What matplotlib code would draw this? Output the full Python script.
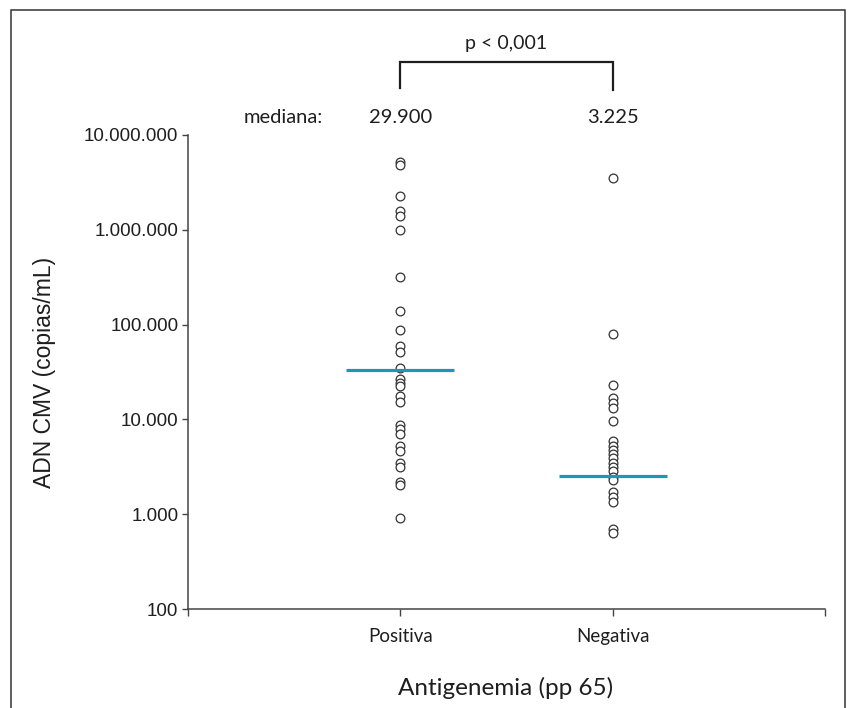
import numpy as np
import matplotlib
matplotlib.use("Agg")
import matplotlib.pyplot as plt
from matplotlib.ticker import FuncFormatter, FixedLocator
from matplotlib.patches import Rectangle

# data (copias/mL)
groups = ["Positiva", "Negativa"]
positiva = [5200000, 4830000, 2270000, 1580000, 1400000, 995000, 318000,
            139000, 87700, 59400, 51400, 34800, 26700, 24200, 22500, 17600,
            15300, 8730, 7920, 7020, 5240, 4640, 3470, 3140, 2190, 2030, 912]
negativa = [3520000, 79600, 23100, 16800, 14900, 13200, 9620, 5920, 5240,
            4750, 4310, 3920, 3470, 3150, 2860, 2470, 2290, 1710, 1520, 1350,
            698, 634]
median_lines = [33200, 2530]
median_labels = ["29.900", "3.225"]
p_text = "p < 0,001"
yticks = [100, 1000, 10000, 100000, 1000000, 10000000]

ink = "#1e1e1e"
teal = "#1b98b3"
label_font = "Lato"
tick_font = "Liberation Sans"

fig = plt.figure(figsize=(8.57, 7.08), dpi=100)
ax = fig.add_axes([188 / 857, 1 - 609 / 708, 637 / 857, 474 / 708])

for i, vals in enumerate([positiva, negativa]):
    xs = np.full(len(vals), i + 1.0)
    ax.plot(xs, vals, linestyle="none", marker="o", markersize=6.3,
            markerfacecolor="white", markeredgecolor="#333333",
            markeredgewidth=0.9, zorder=3)
    ax.hlines(median_lines[i], i + 1 - 0.255, i + 1 + 0.255, color=teal,
              linewidth=2.3, zorder=4)

ax.set_yscale("log")
ax.set_ylim(100, 10000000)
ax.set_xlim(0, 3)
ax.yaxis.set_major_locator(FixedLocator(yticks))
ax.yaxis.set_minor_locator(FixedLocator([]))
ax.yaxis.set_major_formatter(
    FuncFormatter(lambda v, pos: f"{v:,.0f}".replace(",", ".")))
ax.set_xticks([0, 1, 2, 3])
ax.set_xticklabels(["", groups[0], groups[1], ""])

for s in ["top", "right"]:
    ax.spines[s].set_visible(False)
for s in ["left", "bottom"]:
    ax.spines[s].set_color("#444444")
    ax.spines[s].set_linewidth(1.1)

ax.tick_params(axis="y", direction="out", length=4, width=1, color="#444444",
               pad=3, labelsize=13.5, labelcolor=ink,
               labelfontfamily=tick_font)
ax.tick_params(axis="x", direction="out", length=5, width=1, color="#444444",
               pad=9, labelsize=13.5, labelcolor=ink,
               labelfontfamily=label_font)

# medians and significance bracket above the plot
tr = ax.get_xaxis_transform()
ax.text(0.45, 1.036, "mediana:", transform=tr, ha="center", va="center",
        fontsize=14.5, color=ink, family=label_font, clip_on=False)
for i, lab in enumerate(median_labels):
    ax.text(i + 1, 1.036, lab, transform=tr, ha="center", va="center",
            fontsize=14.5, color=ink, family=label_font, clip_on=False)
ax.plot([1, 1, 2, 2], [1.099, 1.154, 1.154, 1.095], transform=tr,
        color=ink, linewidth=1.6, clip_on=False, solid_joinstyle="miter")
ax.text(1.5, 1.194, p_text, transform=tr, ha="center", va="center",
        fontsize=14, color=ink, family=label_font, clip_on=False)

fig.text(45 / 857, 1 - 372 / 708, "ADN CMV (copias/mL)", rotation=90,
         ha="center", va="center", fontsize=16.5, color=ink, family=tick_font)
fig.text(506 / 857, 1 - 688 / 708, "Antigenemia (pp 65)", ha="center",
         va="center", fontsize=17.5, color=ink, family=label_font)

# outer frame (open at the bottom)
fig.patches.append(Rectangle((11 / 857, -0.05), 834 / 857, 1.05 - 10 / 708,
                             transform=fig.transFigure, fill=False,
                             edgecolor="#333333", linewidth=1.1))

fig.savefig("out.png", dpi=100)
